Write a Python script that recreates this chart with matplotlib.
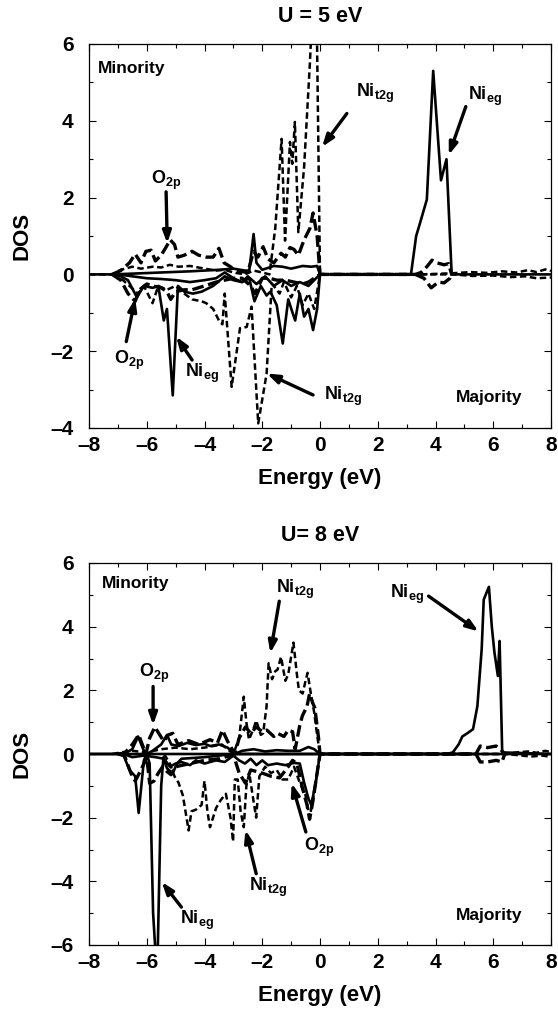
import matplotlib
matplotlib.use("Agg")
import numpy as np
import matplotlib.pyplot as plt

plt.rcParams['font.family'] = ['Liberation Sans', 'DejaVu Sans']
plt.rcParams['font.weight'] = 'bold'
plt.rcParams['mathtext.fontset'] = 'custom'
plt.rcParams['mathtext.rm'] = 'Liberation Sans:bold'
plt.rcParams['mathtext.default'] = 'rm'

# ---------------- U = 5 eV : (energy, DOS) pairs ----------------
eg_min_5 = np.array([[-8, 0], [-7.2, 0], [-6.5, 0.02], [-5.5, 0.05], [-4.5, 0.08], [-3.5, 0.12],
    [-3.0, 0.15], [-2.6, 0.1], [-2.45, 0.1], [-2.3, 1.05], [-2.2, 0.3], [-2.0, 0.12], [-1.6, 0.22],
    [-1.3, 0.2], [-1.0, 0.15], [-0.6, 0.22], [-0.3, 0.2], [-0.1, 0.22], [0, 0], [3.15, 0],
    [3.33, 1.0], [3.45, 1.3], [3.7, 1.95], [3.92, 5.3], [4.19, 2.45], [4.38, 3.0], [4.56, 0], [8, 0]])
eg_maj_5 = np.array([[-7.2, 0], [-6.9, -0.05], [-6.65, -0.15], [-6.34, -0.6], [-6.1, -0.3],
    [-5.8, -0.35], [-5.6, -0.3], [-5.41, -1.2], [-5.3, -0.9], [-5.1, -3.15], [-4.92, -0.3],
    [-4.7, -0.45], [-4.4, -0.5], [-4.1, -0.45], [-3.7, -0.3], [-3.3, -0.05], [-3.0, -0.15],
    [-2.7, -0.2], [-2.45, -0.1], [-2.27, -0.7], [-2.05, -0.3], [-1.85, -0.55], [-1.72, -0.45],
    [-1.5, -0.8], [-1.29, -1.8], [-1.1, -0.65], [-0.95, -1.0], [-0.86, -1.2], [-0.7, -0.5],
    [-0.55, -1.1], [-0.4, -0.9], [-0.24, -1.45], [-0.1, -0.9], [0, 0]])
lo_maj_5 = np.array([[-7.0, 0], [-6.5, -0.05], [-6.0, -0.1], [-5.5, -0.12], [-5.0, -0.15],
    [-4.5, -0.2], [-4.0, -0.15], [-3.6, -0.1], [-3.3, 0.05], [-3.0, -0.1], [-2.7, -0.2],
    [-2.5, -0.05], [-2.2, -0.25], [-1.9, -0.05], [-1.6, -0.3], [-1.3, -0.15], [-1.0, -0.3],
    [-0.7, -0.2], [-0.4, -0.3], [-0.2, -0.15], [0, 0]])
t2g_min_5 = np.array([[-8, 0], [-7.2, 0], [-6.9, 0.12], [-6.5, 0.2], [-6.2, 0.15], [-5.8, 0.2],
    [-5.5, 0.18], [-5.2, 0.25], [-4.9, 0.2], [-4.5, 0.22], [-4.0, 0.15], [-3.6, 0.1], [-3.3, 0.12],
    [-3.0, 0.05], [-2.6, 0.0], [-2.3, 0.1], [-2.0, 0.05], [-1.75, 0.0], [-1.55, 1.2], [-1.33, 3.53],
    [-1.21, 0.88], [-1.04, 3.45], [-0.96, 2.88], [-0.87, 3.97], [-0.75, 1.1], [-0.55, 2.8],
    [-0.35, 5.5], [-0.29, 6.5], [-0.11, 6.5], [0, 0], [3.5, 0], [4.6, 0.03], [5.2, 0.06],
    [5.8, 0.04], [6.3, 0.08], [6.8, 0.05], [7.2, 0.11], [7.5, 0.06], [7.8, 0.13], [8, 0.09]])
t2g_maj_5 = np.array([[-7.2, 0], [-6.9, -0.1], [-6.6, -0.3], [-6.3, -0.5], [-6.1, -0.3],
    [-5.8, -0.75], [-5.6, -0.3], [-5.3, -0.4], [-5.0, -0.3], [-4.7, -0.5], [-4.43, -0.65],
    [-4.1, -0.7], [-3.94, -0.75], [-3.7, -0.9], [-3.5, -1.2], [-3.38, -1.3], [-3.3, -0.5],
    [-3.06, -2.93], [-2.77, -1.4], [-2.54, -1.37], [-2.37, -0.84], [-2.14, -3.88], [-1.85, -2.59],
    [-1.67, -0.24], [-1.6, -0.3], [-1.4, -0.5], [-1.25, -0.2], [-1.0, -0.6], [-0.8, -0.3],
    [-0.6, -0.8], [-0.4, -0.5], [-0.2, -0.9], [0, 0], [4.6, 0], [5.3, -0.04], [6.0, -0.03],
    [6.6, -0.07], [7.1, -0.05], [7.5, -0.1], [8, -0.08]])
o2p_min_5 = np.array([[-7.2, 0], [-6.9, 0.1], [-6.6, 0.3], [-6.4, 0.53], [-6.2, 0.3],
    [-6.03, 0.6], [-5.85, 0.63], [-5.7, 0.35], [-5.5, 0.5], [-5.3, 0.75], [-5.19, 0.9],
    [-5.04, 0.78], [-4.92, 0.45], [-4.7, 0.5], [-4.43, 0.6], [-4.2, 0.5], [-3.94, 0.45],
    [-3.7, 0.45], [-3.5, 0.68], [-3.32, 0.3], [-3.1, 0.2], [-2.95, 0.1], [-2.5, 0.05], [-2.3, 0.6],
    [-2.15, 0.45], [-1.97, 0.72], [-1.8, 0.4], [-1.6, 0.3], [-1.35, 0.55], [-1.2, 0.45],
    [-1.04, 0.7], [-0.9, 0.65], [-0.75, 0.5], [-0.55, 0.9], [-0.35, 1.2], [-0.24, 1.6],
    [-0.1, 1.0], [0, 0], [3.3, 0], [3.5, 0.05], [3.7, 0.2], [3.88, 0.37], [4.05, 0.3],
    [4.3, 0.25], [4.45, 0.28], [4.56, 0]])
o2p_maj_5 = np.array([[-7.2, 0], [-6.9, -0.15], [-6.65, -0.5], [-6.4, -0.7], [-6.25, -0.4],
    [-6.0, -0.25], [-5.8, -0.3], [-5.5, -0.35], [-5.3, -0.45], [-5.17, -0.65], [-5.0, -0.45],
    [-4.7, -0.4], [-4.43, -0.4], [-4.0, -0.3], [-3.6, -0.2], [-3.3, -0.15], [-3.0, -0.1],
    [-2.7, -0.1], [-2.4, -0.3], [-2.25, -0.5], [-2.0, -0.1], [-1.75, -0.1], [-1.5, -0.15],
    [-1.2, -0.15], [-0.9, -0.2], [-0.6, -0.25], [-0.4, -0.2], [-0.2, -0.1], [0, 0], [3.3, 0],
    [3.6, -0.1], [3.85, -0.35], [4.1, -0.2], [4.3, -0.22], [4.5, -0.1], [4.56, 0]])

# ---------------- U = 8 eV ----------------
eg_min_8 = np.array([[-8, 0], [4.4, 0], [4.6, 0.05], [4.8, 0.3], [4.93, 0.55], [5.1, 0.65],
    [5.3, 0.78], [5.45, 1.5], [5.6, 3.3], [5.67, 4.85], [5.85, 5.25], [5.95, 4.0], [6.04, 3.2],
    [6.16, 2.45], [6.22, 3.55], [6.31, 0.05], [8, 0]])
eg_maj_8 = np.array([[-8, 0], [-7, 0], [-6.8, -0.05], [-6.6, -0.5], [-6.4, -0.7], [-6.28, -1.85],
    [-6.1, -0.2], [-6.0, 0], [-5.9, -0.3], [-5.78, -5.0], [-5.7, -6.2], [-5.62, -6.2],
    [-5.5, -1.0], [-5.42, -0.1], [-5.3, -0.45], [-5.1, -0.6], [-4.95, -0.3], [-4.8, -0.15],
    [-4.0, -0.1], [-3.0, 0], [8, 0]])
lo_min_8 = np.array([[-6.8, 0], [-6.5, 0.15], [-6.3, 0.55], [-6.1, 0.1], [-6.0, 0], [-5.8, 0.1],
    [-5.5, 0.3], [-5.3, 0.6], [-5.15, 0.3], [-4.9, 0.25], [-4.6, 0.35], [-4.3, 0.28], [-4.0, 0.32],
    [-3.8, 0.25], [-3.5, 0.3], [-3.2, 0.2], [-2.95, 0.0], [-2.7, 0.1], [-2.3, 0.15], [-1.9, 0.08],
    [-1.5, 0.12], [-1.1, 0.1], [-0.7, 0.1], [-0.4, 0.22], [-0.2, 0.15], [0, 0]])
lo_maj_8 = np.array([[-6.8, 0], [-6.5, -0.1], [-6.1, -0.05], [-5.7, -0.1], [-5.4, -0.15],
    [-5.2, -0.4], [-5.0, -0.3], [-4.8, -0.25], [-4.5, -0.35], [-4.3, -0.2], [-4.0, -0.3],
    [-3.6, -0.2], [-3.3, -0.25], [-3.0, -0.05], [-2.8, -0.2], [-2.6, -0.3], [-2.4, -0.15],
    [-2.2, -0.35], [-2.0, -0.2], [-1.8, -0.35], [-1.5, -0.3], [-1.2, -0.35], [-0.9, -0.28],
    [-0.7, -0.3], [-0.55, -0.9], [-0.4, -1.4], [-0.3, -1.6], [-0.15, -0.9], [0, 0]])
t2g_min_8 = np.array([[-7.2, 0], [-6.9, 0.05], [-6.5, 0.1], [-6.0, 0.05], [-5.5, 0.15],
    [-5.0, 0.2], [-4.5, 0.15], [-4.0, 0.2], [-3.4, 0.3], [-3.0, 0], [-2.8, 0.5], [-2.64, 1.8],
    [-2.55, 1.0], [-2.46, 0.45], [-2.3, 0.8], [-2.21, 1.05], [-2.05, 0.6], [-1.97, 0.65],
    [-1.85, 1.5], [-1.78, 2.85], [-1.66, 2.35], [-1.55, 2.6], [-1.47, 2.65], [-1.35, 3.05],
    [-1.2, 2.3], [-1.1, 2.5], [-0.92, 3.5], [-0.8, 2.5], [-0.73, 2.0], [-0.6, 1.9], [-0.5, 2.3],
    [-0.43, 2.55], [-0.3, 1.8], [-0.2, 1.3], [-0.1, 0.6], [0, 0], [6.4, 0], [6.8, 0.05],
    [7.2, 0.08], [7.5, 0.04], [7.8, 0.1], [8, 0.06]])
t2g_maj_8 = np.array([[-5.4, 0], [-5.2, -0.3], [-5.04, -0.7], [-4.9, -0.9], [-4.75, -1.3],
    [-4.55, -2.4], [-4.45, -1.8], [-4.3, -1.75], [-4.1, -1.6], [-4.0, -0.85], [-3.9, -1.8],
    [-3.81, -2.3], [-3.6, -1.7], [-3.44, -1.45], [-3.26, -1.25], [-3.1, -2.0], [-3.01, -2.75],
    [-2.95, -0.8], [-2.85, -0.8], [-2.75, -1.8], [-2.64, -2.3], [-2.55, -1.0], [-2.45, -0.6],
    [-2.35, -1.2], [-2.21, -2.0], [-2.1, -0.7], [-1.9, -0.4], [-1.7, -0.6], [-1.5, -0.5],
    [-1.3, -0.8], [-1.1, -0.8], [-0.9, -0.4], [-0.7, -0.9], [-0.5, -1.3], [-0.36, -2.0],
    [-0.2, -1.2], [0, 0], [6.4, 0], [6.9, -0.04], [7.3, -0.08], [7.7, -0.05], [8, -0.09]])
o2p_min_8 = np.array([[-7, 0], [-6.77, 0.02], [-6.5, 0.3], [-6.28, 0.6], [-6.03, 0.0],
    [-5.9, 0.5], [-5.72, 0.85], [-5.55, 0.6], [-5.41, 0.4], [-5.25, 0.6], [-5.1, 0.65],
    [-4.92, 0.3], [-4.55, 0.42], [-4.2, 0.3], [-3.81, 0.45], [-3.55, 0.35], [-3.38, 0.75],
    [-3.2, 0.4], [-2.95, 0.0], [-2.8, 0.5], [-2.58, 0.85], [-2.4, 0.65], [-2.21, 0.85],
    [-2.0, 0.7], [-1.84, 0.75], [-1.6, 0.55], [-1.47, 0.65], [-1.25, 0.55], [-1.1, 0.75],
    [-0.95, 0.7], [-0.86, 0.15], [-0.7, 0.9], [-0.61, 1.2], [-0.45, 1.5], [-0.36, 1.9],
    [-0.25, 1.6], [-0.18, 1.45], [-0.05, 0.5], [0, 0], [5.4, 0], [5.55, 0.25], [5.8, 0.2],
    [6.1, 0.25], [6.3, 0.1], [6.4, 0]])
o2p_maj_8 = np.array([[-7, 0], [-6.77, -0.05], [-6.55, -0.6], [-6.4, -0.85], [-6.2, -0.5],
    [-6.0, -0.1], [-5.9, -0.92], [-5.75, -0.85], [-5.6, -0.6], [-5.45, -0.4], [-5.3, -0.55],
    [-5.16, -0.65], [-5.0, -0.4], [-4.5, -0.3], [-4.0, -0.2], [-3.5, -0.15], [-3.0, -0.02],
    [-2.8, -0.6], [-2.58, -0.92], [-2.4, -0.5], [-2.2, -0.55], [-2.0, -0.6], [-1.7, -0.7],
    [-1.4, -0.75], [-1.1, -0.4], [-0.95, -0.2], [-0.8, -0.3], [-0.6, -1.1], [-0.45, -1.6],
    [-0.36, -2.05], [-0.25, -1.5], [-0.1, -0.6], [0, 0], [5.4, 0], [5.55, -0.25], [5.8, -0.25],
    [6.1, -0.2], [6.3, -0.25], [6.4, 0]])

# labels: (text, label x, label y, arrow tail, arrow head)
notes_5 = [(r'Ni$_{t2g}$', 1.24, 4.71, (0.93, 4.19), (0.07, 3.32)),
           (r'Ni$_{eg}$', 5.12, 4.63, (5.05, 4.37), (4.46, 3.11)),
           (r'O$_{2p}$', -5.84, 2.46, (-5.33, 2.15), (-5.29, 0.81)),
           (r'O$_{2p}$', -7.14, -2.23, (-6.71, -1.75), (-6.4, -0.63)),
           (r'Ni$_{eg}$', -4.67, -2.58, (-4.43, -2.23), (-4.98, -1.62)),
           (r'Ni$_{t2g}$', 0.13, -3.19, (-0.24, -3.14), (-1.84, -2.58))]
notes_8 = [(r'Ni$_{t2g}$', -1.53, 5.17, (-1.41, 4.8), (-1.72, 3.17)),
           (r'Ni$_{eg}$', 2.41, 5.0, (3.76, 4.96), (5.49, 3.85)),
           (r'O$_{2p}$', -6.28, 2.54, (-5.78, 2.12), (-5.78, 0.91)),
           (r'O$_{2p}$', -0.55, -2.92, (-0.49, -2.45), (-0.98, -0.92)),
           (r'Ni$_{t2g}$', -2.46, -4.18, (-2.21, -3.76), (-2.58, -2.39)),
           (r'Ni$_{eg}$', -4.86, -5.23, (-4.8, -4.81), (-5.48, -4.02))]

solid = dict(color='k', lw=1.9, ls='-')
t2g_style = dict(color='k', lw=1.8, ls=(0, (2.6, 1.4)))
o2p_style = dict(color='k', lw=2.4, ls=(0, (3.5, 1.4)))

fig = plt.figure(figsize=(5.58, 10.10), dpi=100)
ax1 = fig.add_axes([89 / 558, 1 - 428 / 1010, 462 / 558, 384 / 1010])
ax2 = fig.add_axes([89 / 558, 1 - 945 / 1010, 462 / 558, 382 / 1010])


def panel(ax, series, notes, title, ylim, yt):
    for arr, st in series:
        ax.plot(arr[:, 0], arr[:, 1], **st)
    ax.set_xlim(-8, 8)
    ax.set_ylim(*ylim)
    ax.set_xticks(np.arange(-8, 9, 2))
    ax.set_xticks(np.arange(-8, 9, 1), minor=True)
    ax.set_yticks(yt)
    ax.set_yticks(np.arange(ylim[0], ylim[1] + 1, 1), minor=True)
    ax.set_xticklabels([str(v).replace('-', '\u2013') for v in range(-8, 9, 2)])
    ax.set_yticklabels([str(v).replace('-', '\u2013') for v in yt])
    ax.tick_params(which='both', direction='in', top=True, right=True, width=0.8)
    ax.tick_params(which='major', length=5, labelsize=15)
    ax.tick_params(which='minor', length=3)
    ax.tick_params(axis='y', pad=11)
    ax.tick_params(axis='x', pad=6)
    ax.set_xlabel('Energy (eV)', fontsize=16, fontweight='bold', labelpad=9)
    ax.set_ylabel('DOS', fontsize=16, fontweight='bold', labelpad=13)
    ax.set_title(title, fontsize=15.5, fontweight='bold', pad=16)
    ax.text(-7.69 if ylim[0] == -4 else -7.57, ylim[1] - 0.65, 'Minority', fontsize=12.5,
            fontweight='bold', va='center', ha='left')
    ax.text(7.02, ylim[0] + 0.8 if ylim[0] == -4 else ylim[0] + 0.93, 'Majority',
            fontsize=12.5, fontweight='bold', va='center', ha='right')
    for txt, tx, ty, tail, head in notes:
        ax.text(tx, ty, txt, fontsize=13, fontweight='bold', va='center', ha='left')
        ax.annotate('', xy=head, xytext=tail,
                    arrowprops=dict(arrowstyle='-|>,head_length=0.7,head_width=0.25',
                                    lw=2.4, color='k', shrinkA=0, shrinkB=0))
    for s in ax.spines.values():
        s.set_linewidth(0.9)


panel(ax1, [(eg_min_5, solid), (eg_maj_5, solid), (lo_maj_5, solid),
            (t2g_min_5, t2g_style), (t2g_maj_5, t2g_style),
            (o2p_min_5, o2p_style), (o2p_maj_5, o2p_style)],
      notes_5, 'U = 5 eV', (-4, 6), [-4, -2, 0, 2, 4, 6])
panel(ax2, [(eg_min_8, solid), (eg_maj_8, solid), (lo_min_8, solid), (lo_maj_8, solid),
            (t2g_min_8, t2g_style), (t2g_maj_8, t2g_style),
            (o2p_min_8, o2p_style), (o2p_maj_8, o2p_style)],
      notes_8, 'U= 8 eV', (-6, 6), [-6, -4, -2, 0, 2, 4, 6])

fig.savefig('out.png', dpi=100)
